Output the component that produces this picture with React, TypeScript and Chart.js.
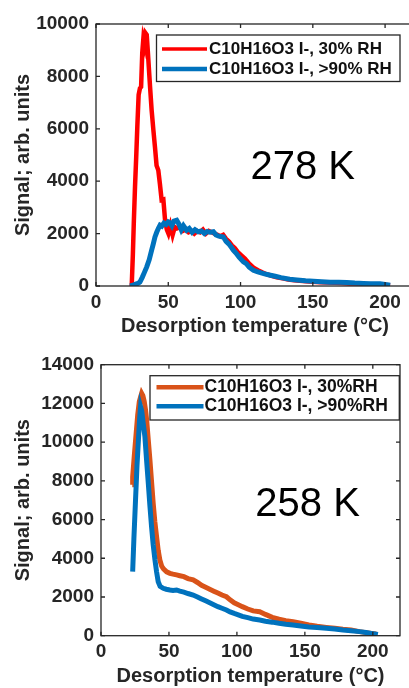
import React, { useEffect, useRef } from "react";
import { Chart, registerables } from "chart.js";

Chart.register(...registerables);

const FONT = "'Liberation Sans', Arial, Helvetica, sans-serif";

// ---- axis ticks ----
const xTicks = [0, 50, 100, 150, 200];
const topYTicks = [0, 2000, 4000, 6000, 8000, 10000];
const bottomYTicks = [0, 2000, 4000, 6000, 8000, 10000, 12000, 14000];

// ---- labels ----
const xTitle = "Desorption temperature (°C)";
const yTitle = "Signal; arb. units";
const topLabels = ["C10H16O3 I-, 30% RH", "C10H16O3 I-, >90% RH"];
const bottomLabels = ["C10H16O3 I-, 30%RH", "C10H16O3 I-, >90%RH"];
const topNote = "278 K";
const bottomNote = "258 K";

// ---- top panel (278 K) ----
const topRedX = [24.7, 25.5, 26.2, 27, 27.8, 28.6, 29.5, 30.4, 31.2, 32, 32.7, 33.5, 34.3, 35.1, 35.8, 36.6, 37.4, 38.5, 39.7, 40.8, 41.9, 43.1, 44.2, 45.4, 46.6, 47.8, 49, 50.1, 51.5, 53, 54.5, 56, 58, 60, 62, 64, 66, 68, 70, 72, 74, 76, 78, 80, 82, 84, 86, 88, 90, 92, 94, 96, 98, 100, 103, 106, 109, 112, 115, 118, 121, 125, 129, 133, 137, 141, 145, 150, 155, 160, 165, 170, 175, 180, 185, 190, 195, 200, 203.5];
const topRedY = [0, 1200, 2500, 3800, 4900, 6100, 7300, 7550, 7600, 8900, 9400, 9200, 9650, 9590, 9000, 8300, 7600, 6700, 5950, 5300, 4600, 4420, 3900, 3280, 3300, 2500, 2150, 2000, 2300, 1950, 2250, 2200, 2250, 2100, 2150, 2050, 2100, 2000, 2100, 2050, 2150, 2000, 2100, 2050, 2000, 1950, 1900, 1950, 1800, 1700, 1550, 1450, 1300, 1200, 1050, 850, 700, 600, 520, 450, 400, 330, 290, 250, 220, 200, 180, 160, 140, 130, 120, 110, 100, 100, 80, 70, 60, 40, 30];
const topBlueX = [23.5, 25, 27, 29, 30.4, 32, 33.5, 35.1, 36.8, 38.5, 39.6, 40.8, 42, 43.2, 44.3, 45.5, 47, 48.5, 50, 51.2, 52.5, 54, 55.8, 57.5, 59, 60.5, 62.7, 64.5, 66.5, 68.5, 70.7, 73, 75, 77, 79, 81.2, 83, 85, 87, 88.1, 90, 92, 94, 95, 97, 99, 102, 104, 106, 108.9, 112, 116, 120.6, 124, 128, 134, 139, 145, 150.4, 156, 162, 168, 173.5, 179, 185, 190, 196.5, 200, 203.5];
const topBlueY = [0, 20, 60, 100, 150, 330, 520, 730, 1000, 1370, 1600, 1870, 2050, 2200, 2320, 2280, 2400, 2350, 2450, 2420, 2300, 2480, 2510, 2350, 2150, 2300, 2130, 2200, 2050, 2150, 2070, 2100, 2000, 2080, 2050, 2070, 1950, 1900, 1880, 1870, 1700, 1600, 1450, 1370, 1250, 1100, 920, 850, 720, 600, 540, 470, 410, 370, 320, 256, 230, 200, 180, 160, 140, 140, 130, 110, 100, 90, 90, 60, 30];

// ---- bottom panel (258 K) ----
const botOrangeX = [23, 23.3, 24.5, 25.8, 27, 28.2, 29, 29.9, 30.8, 31.8, 32.7, 33.6, 34.8, 36, 37.2, 38.4, 39.6, 40.9, 42.1, 43.3, 44.6, 46, 48.3, 50.7, 53, 55.6, 58, 61, 64, 67.8, 71, 74, 77, 80, 83, 86, 89, 92.3, 95, 98, 101, 104, 108, 112, 116.8, 121, 126, 131, 136, 141.3, 147, 153, 159, 165.8, 172, 178, 184, 190.2, 195, 199, 202.5];
const botOrangeY = [7800, 8210, 9300, 10400, 11400, 12100, 12300, 12520, 12400, 12100, 11700, 11140, 10100, 9080, 7950, 6850, 5900, 5110, 4400, 3910, 3600, 3450, 3300, 3220, 3180, 3140, 3100, 3050, 2950, 2880, 2750, 2600, 2500, 2400, 2300, 2200, 2100, 2010, 1850, 1700, 1600, 1500, 1380, 1280, 1240, 1100, 950, 850, 780, 720, 640, 560, 490, 430, 380, 330, 300, 210, 160, 120, 90];
const botBlueX = [23.3, 24.2, 25.4, 26.5, 27.6, 28.4, 29.1, 30, 31, 32.3, 33.5, 34.8, 36, 37.2, 38.4, 39.7, 40.9, 42.1, 43.5, 45.8, 48, 50.7, 53, 55.6, 58, 61, 64, 67.8, 71, 74, 77, 80, 83, 86, 89, 92.3, 95, 98, 101, 104, 108, 112, 116.8, 121, 126, 131, 136, 141.3, 147, 153, 159, 165.8, 172, 178, 184, 190.2, 195, 199, 203.7];
const botBlueY = [3310, 5000, 7000, 8800, 10200, 11200, 11830, 11600, 11000, 10280, 9100, 7870, 6700, 5630, 4700, 3910, 3300, 2790, 2550, 2450, 2400, 2360, 2340, 2360, 2300, 2250, 2180, 2100, 2000, 1900, 1800, 1700, 1600, 1500, 1420, 1330, 1230, 1150, 1080, 1000, 930, 860, 810, 750, 700, 640, 590, 550, 500, 450, 420, 380, 350, 300, 260, 210, 170, 120, 60];

const toPoints = (xs: number[], ys: number[]) => xs.map((x, i) => ({ x, y: ys[i] }));

const framePlugin = {
  id: "frame",
  afterDraw(chart: any, _args: any, opts: any) {
    const { ctx, chartArea: a, scales } = chart;
    ctx.save();
    ctx.strokeStyle = "#262626";
    ctx.lineWidth = 1.3;
    ctx.strokeRect(a.left, a.top, a.right - a.left, a.bottom - a.top);
    const tl = 4;
    ctx.beginPath();
    scales.x.ticks.forEach((t: any) => {
      const px = scales.x.getPixelForValue(t.value);
      ctx.moveTo(px, a.bottom);
      ctx.lineTo(px, a.bottom - tl);
      ctx.moveTo(px, a.top);
      ctx.lineTo(px, a.top + tl);
    });
    scales.y.ticks.forEach((t: any) => {
      const py = scales.y.getPixelForValue(t.value);
      ctx.moveTo(a.left, py);
      ctx.lineTo(a.left + tl, py);
      ctx.moveTo(a.right, py);
      ctx.lineTo(a.right - tl, py);
    });
    ctx.stroke();

    // legend box
    const L = opts.legend;
    ctx.fillStyle = "#ffffff";
    ctx.fillRect(L.x, L.y, L.w, L.h);
    ctx.lineWidth = 1.3;
    ctx.strokeStyle = "#262626";
    ctx.strokeRect(L.x, L.y, L.w, L.h);
    chart.data.datasets.forEach((ds: any, i: number) => {
      const cy = L.rows[i];
      ctx.strokeStyle = ds.borderColor;
      ctx.lineWidth = L.lineWidths[i];
      ctx.beginPath();
      ctx.moveTo(L.lineX0, cy);
      ctx.lineTo(L.lineX1, cy);
      ctx.stroke();
      ctx.fillStyle = "#111111";
      ctx.font = `bold ${L.fontSize}px ${FONT}`;
      ctx.textAlign = "left";
      ctx.textBaseline = "middle";
      ctx.fillText(ds.label, L.textX, cy);
    });

    // temperature note
    const N = opts.note;
    ctx.fillStyle = "#000000";
    ctx.font = `${N.size}px ${FONT}`;
    ctx.textAlign = "center";
    ctx.textBaseline = "middle";
    ctx.fillText(N.text, scales.x.getPixelForValue(N.x), scales.y.getPixelForValue(N.y));
    ctx.restore();
  },
};

function makeConfig(p: any) {
  return {
    type: "line",
    data: {
      datasets: p.series.map((s: any, i: number) => ({
        label: s.label,
        data: toPoints(s.x, s.y),
        borderColor: s.color,
        backgroundColor: s.color,
        borderWidth: s.width,
        pointRadius: 0,
        tension: 0,
        fill: false,
        order: s.order,
      })),
    },
    options: {
      responsive: false,
      animation: false,
      events: [],
      layout: { padding: { top: p.padTop, right: p.padRight, left: 0, bottom: 0 } },
      plugins: {
        legend: { display: false },
        tooltip: { enabled: false },
        frame: { legend: p.legend, note: p.note },
      },
      scales: {
        x: {
          type: "linear",
          min: 0,
          max: 220,
          grid: { display: false, drawTicks: false },
          border: { display: false },
          afterBuildTicks: (s: any) => {
            s.ticks = xTicks.map((v) => ({ value: v }));
          },
          afterFit: (s: any) => {
            s.height = p.xHeight;
          },
          ticks: {
            padding: p.xTickPad,
            color: "#262626",
            maxRotation: 0,
            autoSkip: false,
            font: { family: FONT, size: 19, weight: "bold" },
            callback: (v: any) => `${v}`,
          },
          title: {
            display: true,
            text: xTitle,
            color: "#262626",
            font: { family: FONT, size: 20, weight: "bold" },
            padding: { top: 0, bottom: p.xTitlePad },
          },
        },
        y: {
          type: "linear",
          min: 0,
          max: p.yMax,
          grid: { display: false, drawTicks: false },
          border: { display: false },
          afterBuildTicks: (s: any) => {
            s.ticks = p.yTicks.map((v: number) => ({ value: v }));
          },
          afterFit: (s: any) => {
            s.width = p.yWidth;
          },
          ticks: {
            padding: 7,
            color: "#262626",
            autoSkip: false,
            font: { family: FONT, size: 19, weight: "bold" },
            callback: (v: any) => `${v}`,
          },
          title: {
            display: true,
            text: yTitle,
            color: "#262626",
            font: { family: FONT, size: 20, weight: "bold" },
            padding: { top: 11, bottom: 0 },
          },
        },
      },
    },
    plugins: [framePlugin],
  };
}

const topConfig = () =>
  makeConfig({
    padTop: 24,
    padRight: 6,
    yWidth: 96,
    xHeight: 58,
    xTickPad: 5,
    xTitlePad: 6,
    yMax: 10000,
    yTicks: topYTicks,
    series: [
      { label: topLabels[0], x: topRedX, y: topRedY, color: "#FF0000", width: 4.5, order: 1 },
      { label: topLabels[1], x: topBlueX, y: topBlueY, color: "#0072BD", width: 5, order: 0 },
    ],
    legend: {
      x: 156.5, y: 35, w: 243.5, h: 46.5,
      rows: [49, 69],
      lineX0: 162, lineX1: 207, textX: 209,
      lineWidths: [3.5, 4.5],
      fontSize: 17,
    },
    note: { text: topNote, x: 143, y: 4500, size: 40 },
  });

const bottomConfig = () =>
  makeConfig({
    padTop: 20.7,
    padRight: 9,
    yWidth: 101,
    xHeight: 52.3,
    xTickPad: 5,
    xTitlePad: 0,
    yMax: 14000,
    yTicks: bottomYTicks,
    series: [
      { label: bottomLabels[0], x: botOrangeX, y: botOrangeY, color: "#D95319", width: 5, order: 1 },
      { label: bottomLabels[1], x: botBlueX, y: botBlueY, color: "#0072BD", width: 5, order: 0 },
    ],
    legend: {
      x: 150, y: 31.7, w: 249.3, h: 44.3,
      rows: [43.3, 62.3],
      lineX0: 156.5, lineX1: 203.5, textX: 204.5,
      lineWidths: [4.5, 4.5],
      fontSize: 17.5,
    },
    note: { text: bottomNote, x: 152, y: 6750, size: 40 },
  });

function Panel({ makeCfg, top, canvasWidth, boxWidth, height }: any) {
  const ref = useRef<HTMLCanvasElement>(null);
  useEffect(() => {
    const chart = new Chart(ref.current as HTMLCanvasElement, makeCfg() as any);
    return () => chart.destroy();
  }, []);
  return (
    <div
      style={{
        position: "absolute",
        left: 0,
        top,
        width: boxWidth,
        height,
        overflow: "hidden",
        background: "#ffffff",
      }}
    >
      <canvas
        ref={ref}
        width={canvasWidth}
        height={height}
        style={{ width: canvasWidth, height, display: "block" }}
      />
    </div>
  );
}

export default function App() {
  return (
    <div>
      <Panel makeCfg={topConfig} top={0} canvasWidth={420} boxWidth={409} height={344} />
      <Panel makeCfg={bottomConfig} top={344} canvasWidth={409} boxWidth={409} height={344} />
    </div>
  );
}
